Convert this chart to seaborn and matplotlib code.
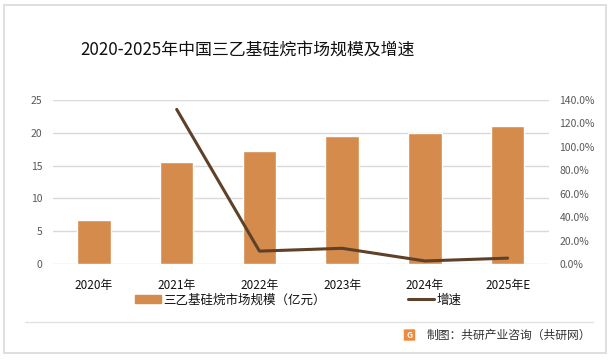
import matplotlib
matplotlib.use("Agg")
import matplotlib.pyplot as plt
import matplotlib.patches as mpatches
from matplotlib.lines import Line2D
from matplotlib.ticker import FuncFormatter, MultipleLocator
import seaborn as sns
import pandas as pd

# ---- data ----
years = ["2020年", "2021年", "2022年", "2023年", "2024年", "2025年E"]
market_size = [6.7, 15.5, 17.2, 19.5, 20.0, 21.0]          # 亿元
growth = [None, 132.0, 11.0, 13.4, 2.6, 5.0]                # %

title = "2020-2025年中国三乙基硅烷市场规模及增速"
bar_label = "三乙基硅烷市场规模（亿元）"
line_label = "增速"
source = "制图：共研产业咨询（共研网）"

bar_color = "#D48B4C"
line_color = "#5E4128"

sns.set_theme(style="white")
plt.rcParams["font.family"] = ["Noto Sans CJK SC", "DejaVu Sans"]

fig = plt.figure(figsize=(6.11, 3.6), dpi=100)
W, H = 611, 360
ax = fig.add_axes([52.6 / W, 1 - 264 / H, (549 - 52.6) / W, (264 - 100) / H])

df = pd.DataFrame({"year": years, "size": market_size})
sns.barplot(data=df, x="year", y="size", color=bar_color, width=0.405,
            saturation=1, ax=ax, zorder=2)
ax.set_ylim(0, 25)
ax.yaxis.set_major_locator(MultipleLocator(5))
ax.set_xlim(-0.5, len(years) - 0.5)
ax.grid(axis="y", color="#D9D9D9", linewidth=1.0, zorder=0)
ax.set_axisbelow(True)
for s in ax.spines.values():
    s.set_visible(False)
ax.set_xlabel("")
ax.set_ylabel("")
ax.tick_params(axis="y", length=0, pad=7.5, labelsize=7.5, labelcolor="#595959")
ax.tick_params(axis="x", length=0, pad=11, labelsize=8.5, labelcolor="#111111")

ax2 = ax.twinx()
gdf = pd.DataFrame({"x": list(range(len(years))), "g": growth}).dropna()
sns.lineplot(data=gdf, x="x", y="g", color=line_color, linewidth=2.2,
             sort=False, ax=ax2, zorder=3)
ax2.set_ylim(0, 140)
ax2.yaxis.set_major_locator(MultipleLocator(20))
ax2.yaxis.set_major_formatter(FuncFormatter(lambda v, p: f"{v:.1f}%"))
ax2.set_xlim(-0.5, len(years) - 0.5)
for s in ax2.spines.values():
    s.set_visible(False)
ax2.set_xlabel("")
ax2.set_ylabel("")
ax2.grid(False)
ax2.tick_params(axis="y", length=0, pad=7.5, labelsize=7.5, labelcolor="#595959")

# legend
handles = [mpatches.Patch(color=bar_color, label=bar_label),
           Line2D([0], [0], color=line_color, linewidth=2.2, label=line_label)]
fig.legend(handles=handles, loc="center", bbox_to_anchor=(298 / W, 1 - 300 / H),
           ncol=2, frameon=False, fontsize=9, handlelength=2.1,
           handleheight=0.55, handletextpad=0.15, columnspacing=6.6,
           labelcolor="#111111")

# title
fig.text(80 / W, 1 - 50 / H, title, fontsize=12.2, color="#111111",
         ha="left", va="center", fontweight="light")

# separator line and frame
fig.add_artist(Line2D([25 / W, 593 / W], [1 - 321.7 / H, 1 - 321.7 / H],
                      color="#E3E3E3", linewidth=1.0))
fig.add_artist(mpatches.Rectangle((4 / W, 7 / H), 602 / W, 348 / H,
                                  fill=False, edgecolor="#D9D9D9", linewidth=1.2))

# footer logo and source
fig.add_artist(mpatches.FancyBboxPatch((405 / W, 1 - 340 / H), 9 / W, 10 / H,
                                       boxstyle="round,pad=0.002",
                                       facecolor="#F08A3C", edgecolor="none"))
fig.text(409.5 / W, 1 - 335 / H, "G", fontsize=6, color="white",
         ha="center", va="center", fontweight="bold")
fig.text(427 / W, 1 - 335 / H, source, fontsize=8.5, color="#333333",
         ha="left", va="center", fontweight="medium")

fig.savefig("out.png", dpi=100)
